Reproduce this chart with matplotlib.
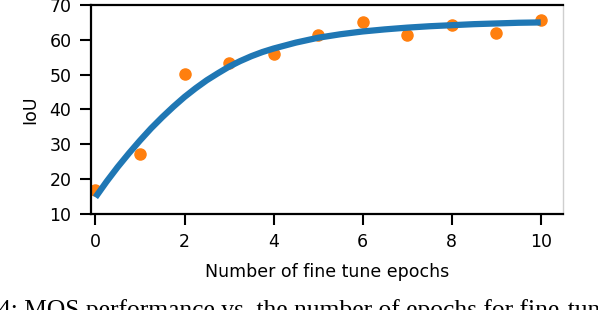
import numpy as np
import matplotlib.pyplot as plt

# измеренные точки (IoU после дообучения)
epochs = [0, 1, 2, 3, 4, 5, 6, 7, 8, 9, 10]
iou = [17.0, 27.1, 50.3, 53.4, 55.9, 61.3, 65.0, 61.5, 64.2, 62.1, 65.8]

# аппроксимирующая кривая
fit_x = [0, 0.25, 0.5, 0.75, 1, 1.25, 1.5, 1.75, 2, 2.25, 2.5, 2.75, 3, 3.25, 3.5, 3.75,
         4, 4.5, 5, 5.5, 6, 6.5, 7, 7.5, 8, 8.5, 9, 9.5, 10]
fit_y = [14.8, 19.3, 23.5, 27.4, 31.1, 34.6, 37.8, 40.8, 43.6, 46.1, 48.4, 50.4, 52.3,
         53.9, 55.3, 56.5, 57.5, 59.2, 60.6, 61.6, 62.4, 63.0, 63.5, 63.9, 64.2, 64.5,
         64.7, 64.9, 65.0]

caption = "4: MOS performance vs. the number of epochs for fine-tun"

fig = plt.figure(figsize=(5.98, 3.10), dpi=100)
ax = fig.add_axes([91 / 598, 96 / 310, 472 / 598, 209 / 310])

ax.plot(epochs, iou, 'o', color='#ff7f0e', markersize=8, zorder=2)
ax.plot(fit_x, fit_y, color='#1f77b4', linewidth=4.5, solid_capstyle='butt',
        solid_joinstyle='round', zorder=3)

ax.set_xlim(-0.1, 10.5)
ax.set_ylim(10, 70)
ax.set_xticks([0, 2, 4, 6, 8, 10])
ax.set_yticks([10, 20, 30, 40, 50, 60, 70])

ax.set_xlabel('Number of fine tune epochs', fontsize=12.5, labelpad=8)
ax.set_ylabel('IoU', fontsize=12.5, labelpad=7)
ax.tick_params(axis='both', labelsize=12.5, length=8, width=1.5, pad=6)

for side in ['left', 'bottom', 'top']:
    ax.spines[side].set_linewidth(1.6)
    ax.spines[side].set_color('black')
ax.spines['right'].set_color('#cfcfcf')
ax.spines['right'].set_linewidth(1.0)

# подпись рисунка, обрезанная нижним краем
fig.text(-0.004, -7 / 310, caption, fontsize=18.4, family='Liberation Serif',
         ha='left', va='baseline')

fig.savefig('out.png', dpi=100)
